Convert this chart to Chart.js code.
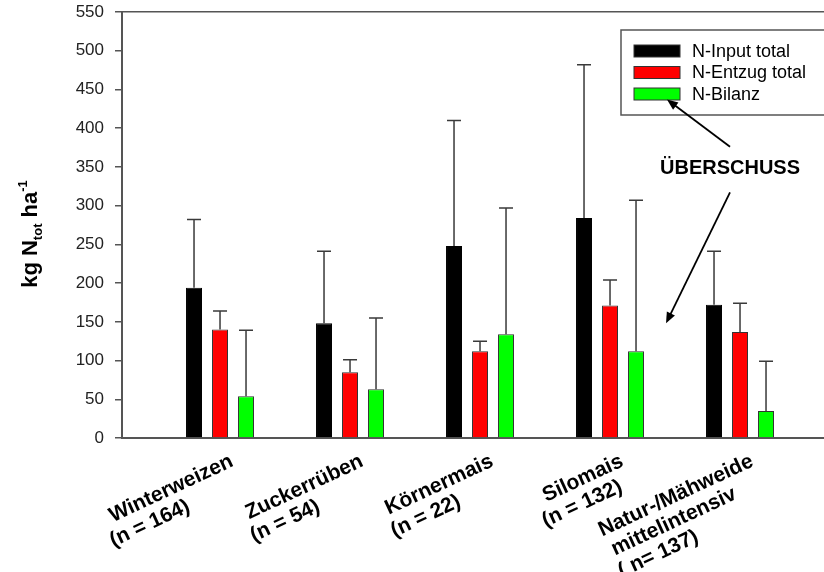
<!DOCTYPE html>
<html>
<head>
<meta charset="utf-8">
<script src="https://cdn.jsdelivr.net/npm/chart.js@4.4.0/dist/chart.umd.min.js"></script>
<style>
  html, body { margin: 0; padding: 0; background: #fff; }
  #wrap { width: 824px; height: 572px; position: relative; }
</style>
</head>
<body>
<div id="wrap"><canvas id="grafica"></canvas></div>
<script>
// daten
const categories = [
  ['Winterweizen', '(n = 164)'],
  ['Zuckerrüben', '(n = 54)'],
  ['Körnermais', '(n = 22)'],
  ['Silomais', '(n = 132)'],
  ['Natur-/Mähweide', 'mittelintensiv', '( n= 137)']
];
const seriesNames = ['N-Input total', 'N-Entzug total', 'N-Bilanz'];
const inputTotal = [194, 148, 248, 284, 172];
const entzugTotal = [140, 85, 112, 171, 137];
const bilanz = [54, 63, 134, 112, 35];
// obere Fehlerbalken (SD)
const inputErr = [88, 93, 162, 198, 69];
const entzugErr = [24, 16, 13, 33, 37];
const bilanzErr = [85, 92, 163, 195, 64];
const yTicks = [0, 50, 100, 150, 200, 250, 300, 350, 400, 450, 500, 550];
const noteText = 'ÜBERSCHUSS';

const FONT = "'Liberation Sans', Arial, sans-serif";
// trailing spaces so the rotated lines sit like in the original
const labelPad = [[0, 10], [0, 10], [0, 8], [0, 2], [0, 5, 14]];

const toPoints = arr => arr.map((v, i) => ({ x: i, y: v }));

const errorBars = {
  id: 'errorBars',
  afterDatasetsDraw(chart) {
    const { ctx } = chart;
    const y = chart.scales.y;
    ctx.save();
    ctx.strokeStyle = '#3a3a3a';
    ctx.lineWidth = 1.5;
    chart.data.datasets.forEach((ds, i) => {
      chart.getDatasetMeta(i).data.forEach((bar, j) => {
        const top = y.getPixelForValue(ds.data[j].y + ds.errors[j]);
        ctx.beginPath();
        ctx.moveTo(bar.x, bar.y);
        ctx.lineTo(bar.x, top);
        ctx.moveTo(bar.x - 7, top);
        ctx.lineTo(bar.x + 7, top);
        ctx.stroke();
      });
    });
    ctx.restore();
  }
};

function arrow(ctx, x1, y1, x2, y2) {
  const a = Math.atan2(y2 - y1, x2 - x1);
  ctx.beginPath();
  ctx.moveTo(x1, y1);
  ctx.lineTo(x2 - 8 * Math.cos(a), y2 - 8 * Math.sin(a));
  ctx.stroke();
  ctx.beginPath();
  ctx.moveTo(x2, y2);
  ctx.lineTo(x2 - 11 * Math.cos(a) + 4.5 * Math.sin(a), y2 - 11 * Math.sin(a) - 4.5 * Math.cos(a));
  ctx.lineTo(x2 - 11 * Math.cos(a) - 4.5 * Math.sin(a), y2 - 11 * Math.sin(a) + 4.5 * Math.cos(a));
  ctx.closePath();
  ctx.fill();
}

const extras = {
  id: 'extras',
  afterDraw(chart) {
    const { ctx, chartArea } = chart;
    const x = chart.scales.x, y = chart.scales.y;
    ctx.save();

    // legende
    const lx = chartArea.right - 203, ly = chartArea.top + 18;
    ctx.fillStyle = '#fff';
    ctx.fillRect(lx, ly, 220, 85);
    ctx.strokeStyle = '#555';
    ctx.lineWidth = 1.5;
    ctx.strokeRect(lx, ly, 220, 85);
    ctx.font = '18px ' + FONT;
    ctx.textBaseline = 'middle';
    chart.data.datasets.forEach((ds, i) => {
      const cy = ly + 21 + i * 21.5;
      ctx.fillStyle = ds.backgroundColor;
      ctx.fillRect(lx + 13, cy - 6, 46, 12);
      ctx.strokeStyle = '#333';
      ctx.lineWidth = 1;
      ctx.strokeRect(lx + 13, cy - 6, 46, 12);
      ctx.fillStyle = '#000';
      ctx.textAlign = 'left';
      ctx.fillText(ds.label, lx + 71, cy + 1);
    });

    // ÜBERSCHUSS + pfeile
    ctx.fillStyle = '#000';
    ctx.strokeStyle = '#000';
    ctx.lineWidth = 1.8;
    ctx.font = 'bold 20px ' + FONT;
    ctx.textAlign = 'center';
    ctx.fillText(noteText, x.getPixelForValue(3.923), y.getPixelForValue(348));
    arrow(ctx, x.getPixelForValue(3.923), y.getPixelForValue(376), x.getPixelForValue(3.438), y.getPixelForValue(437));
    arrow(ctx, x.getPixelForValue(3.923), y.getPixelForValue(317), x.getPixelForValue(3.431), y.getPixelForValue(148));

    // y-titel mit tief-/hochgestellt
    const parts = [
      { t: 'kg N', size: 22, dy: 0 },
      { t: 'tot', size: 13, dy: 5 },
      { t: ' ha', size: 22, dy: 0 },
      { t: '-1', size: 13, dy: -10 }
    ];
    let total = 0;
    parts.forEach(p => { ctx.font = 'bold ' + p.size + 'px ' + FONT; p.w = ctx.measureText(p.t).width; total += p.w; });
    ctx.translate(chartArea.left - 85, chartArea.top + 222);
    ctx.rotate(-Math.PI / 2);
    ctx.textAlign = 'left';
    ctx.textBaseline = 'alphabetic';
    let cx = -total / 2;
    parts.forEach(p => {
      ctx.font = 'bold ' + p.size + 'px ' + FONT;
      ctx.fillText(p.t, cx, p.dy);
      cx += p.w;
    });
    ctx.restore();
  }
};

const ctx = document.getElementById('grafica');
new Chart(ctx, {
  type: 'bar',
  data: {
    datasets: [
      { label: seriesNames[0], data: toPoints(inputTotal), errors: inputErr, backgroundColor: '#000000', borderColor: '#000000' },
      { label: seriesNames[1], data: toPoints(entzugTotal), errors: entzugErr, backgroundColor: '#ff0000', borderColor: '#333333' },
      { label: seriesNames[2], data: toPoints(bilanz), errors: bilanzErr, backgroundColor: '#00ff00', borderColor: '#333333' }
    ]
  },
  options: {
    responsive: true,
    maintainAspectRatio: false,
    animation: false,
    devicePixelRatio: 1,
    layout: { padding: { left: 50, top: 12, right: 0, bottom: 0 } },
    datasets: {
      bar: { categoryPercentage: 0.6, barPercentage: 0.615, borderWidth: 1 }
    },
    plugins: {
      legend: { display: false },
      tooltip: { enabled: false }
    },
    scales: {
      x: {
        type: 'linear',
        min: -0.754,
        max: 4.646,
        offset: false,
        grid: { display: true, drawOnChartArea: false, drawTicks: false, offset: false },
        border: { display: true, color: '#555', width: 2 },
        afterFit: s => { s.height = 134; },
        ticks: {
          stepSize: 1,
          includeBounds: false,
          autoSkip: false,
          minRotation: 25,
          maxRotation: 25,
          labelOffset: 12,
          padding: 12,
          color: '#000',
          font: { family: FONT, size: 21, weight: 'bold', lineHeight: 1.08 },
          callback: v => {
            if (!Number.isInteger(v) || !categories[v]) return '';
            return categories[v].map((line, k) => line + ' '.repeat(labelPad[v][k] || 0));
          }
        }
      },
      y: {
        min: 0,
        max: 550,
        afterBuildTicks: s => { s.ticks = yTicks.map(v => ({ value: v })); },
        afterFit: s => { s.width = 72; s.paddingTop = 0; },
        grid: {
          color: c => (c.tick && c.tick.value === 550 ? '#555' : 'rgba(0,0,0,0)'),
          tickColor: '#555',
          tickLength: 7,
          lineWidth: 1.5
        },
        border: { display: true, color: '#555', width: 2 },
        ticks: {
          padding: 11,
          color: '#222',
          font: { family: FONT, size: 17 }
        }
      }
    }
  },
  plugins: [errorBars, extras]
});
</script>
</body>
</html>
